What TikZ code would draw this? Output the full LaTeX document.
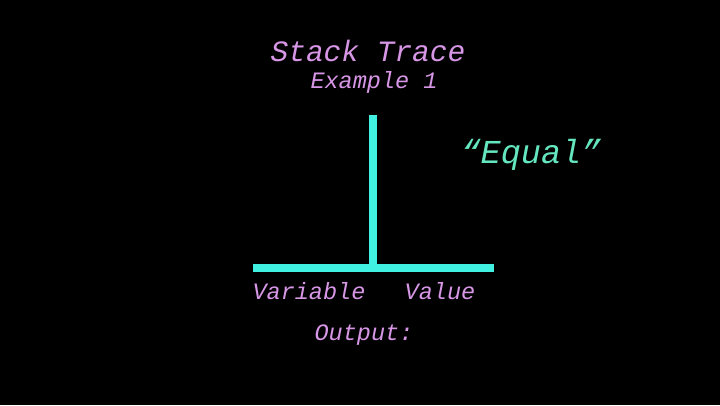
\documentclass[tikz,border=0pt]{standalone}
\usepackage{fontspec}
\setmonofont{Liberation Mono}
\definecolor{tracepink}{RGB}{215,150,230}
\definecolor{tracecyan}{RGB}{64,240,224}
\definecolor{tracemint}{RGB}{100,230,190}
\tikzset{
  label text/.style = {text = tracepink, font = \ttfamily\itshape\fontsize{23.5}{28}\selectfont, inner sep = 0pt},
  bar/.style = {draw = tracecyan, line width = 8.5pt}
}
\begin{document}
\begin{tikzpicture}[x = 1pt, y = -1pt]
\fill[black] (0,0) rectangle (720,405);
\useasboundingbox (0,0) rectangle (720,405);
\node[label text, font = \ttfamily\itshape\fontsize{29.5}{34}\selectfont] (title) at (368,51) {Stack Trace};
\node[label text] (example) at (374,82) {Example 1};
\node[label text, text = tracemint, font = \ttfamily\itshape\fontsize{33.5}{38}\selectfont] (word) at (531,155) {“Equal”};
% the T of the trace table
\draw[bar] (373,115) -- (373,268);
\draw[bar] (253,268) -- (494,268);
\node[label text] (variable) at (309,291) {Variable};
\node[label text] (value) at (440,291) {Value};
\node[label text] (output) at (364,335) {Output:};
\end{tikzpicture}
\end{document}
